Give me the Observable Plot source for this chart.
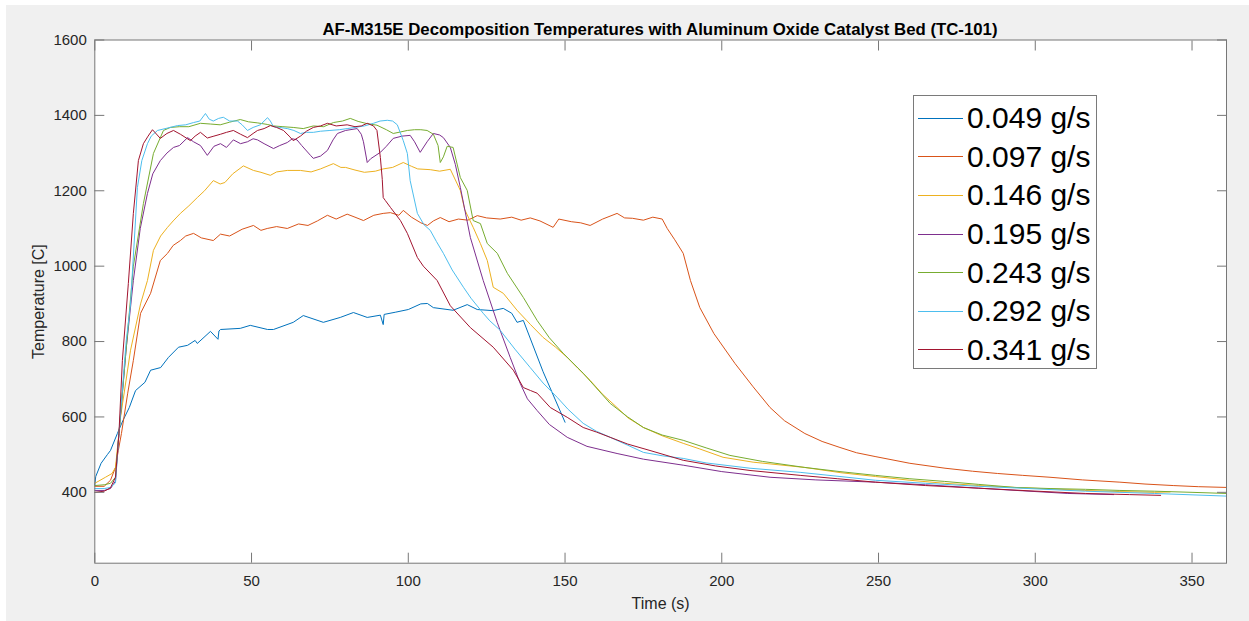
<!DOCTYPE html>
<html><head><meta charset="utf-8">
<script src="https://cdn.jsdelivr.net/npm/d3@7"></script>
<script src="https://cdn.jsdelivr.net/npm/@observablehq/plot@0.6"></script>
<style>
html,body{margin:0;padding:0;background:#fff;width:1249px;height:621px;overflow:hidden;font-family:"Liberation Sans",Arial,sans-serif}
#bg{position:absolute;left:6px;top:5px;width:1243px;height:616px;background:#f0f0f0}
#title{position:absolute;left:94px;width:1132px;top:20px;text-align:center;font-weight:bold;font-size:16.8px;line-height:19px;color:#000;white-space:nowrap}
#chart{position:absolute;left:0;top:38px}
#legend{position:absolute;left:913px;top:95px;width:184px;height:274px;border:1px solid #7a7a7a;background:#fff;box-sizing:border-box;padding-top:3px}
.row{height:38.6px;display:flex;align-items:center}
.sw{display:inline-block;width:45px;height:0;border-top:1.2px solid;margin-left:4px}
.lb{margin-left:4px;font-size:30px;color:#000;line-height:30px}
</style></head>
<body>
<div id="bg"></div>
<div id="title">AF-M315E Decomposition Temperatures with Aluminum Oxide Catalyst Bed (TC-101)</div>
<div id="chart"></div>
<div id="legend"></div>
<script>
const seriesNames = ["0.049 g/s","0.097 g/s","0.146 g/s","0.195 g/s","0.243 g/s","0.292 g/s","0.341 g/s"];
const colors = ["#0072BD","#D95319","#EDB120","#7E2F8E","#77AC30","#4DBEEE","#A2142F"];
const xTicks = [0,50,100,150,200,250,300,350];
const yTicks = [400,600,800,1000,1200,1400,1600];

const t049 = [0,0.3,2,4,5,7.2,9,11,13,16,17.8,21,23.5,26.7,29.6,32,32.7,36.9,39.3,39.6,40.1,46.4,49.6,55.1,57,63.3,66.5,72.9,78.3,82.5,86.9,91.1,92,92.3,96,100,104,106.1,108,114.3,118.8,122,127,130.3,133,134.7,136.7,143,150];
const T049 = [420,442,477,500,511,556,591,625,670,692,724,731,758,785,790,803,795,827,806,828,832,835,843,832,832,851,869,851,864,877,864,870,845,872,878,885,900,901,890,883,898,885,882,888,875,851,856,720,586];

const t097 = [0,3,5,6.6,7.5,8.5,10.5,12.3,14.6,17.8,20.9,23.2,25,27.3,29,31.5,34,37.8,40.1,43,47,50.6,53,55,58,61.4,65,68,71,74.2,77,80.5,83,85.7,89,92,94.3,97,98.4,101,104,106.1,108,110.2,113,116,119,122,125,129.3,133,136,138.9,142,146.2,148,152,155,158,162,166.6,169,171.5,175,178,181,182.6,185,187.7,190,193,197.5,204.2,210,215.4,220,226.5,232,237.7,243,248.9,260,271.2,280,288,296,304.7,315,327,335,344,352,361];
const T097 = [416,416,432,466,511,556,663,750,875,928,1015,1034,1055,1068,1080,1087,1075,1068,1085,1080,1098,1108,1095,1100,1105,1100,1112,1108,1120,1135,1125,1138,1130,1121,1135,1140,1142,1135,1148,1130,1115,1108,1120,1129,1118,1125,1122,1134,1128,1125,1130,1122,1128,1120,1103,1125,1118,1115,1108,1125,1140,1128,1127,1122,1130,1125,1100,1070,1034,962,890,821,742,680,625,590,556,535,519,505,495,477,464,456,450,445,440,433,427,422,418,415,413];

const t146 = [0,3.4,5.5,6.6,8.2,11.4,14.6,16.8,18.7,21,23.2,25,27.3,30,32.7,35,37.8,40,41.5,44,47.4,50.6,53,56,58,61.4,65.6,69,72,76.1,78.5,80,83,86,89.5,92,95,98.4,101,103,107,110,113.4,116.6,118,120.7,123,125.2,127.1,130.3,134.7,139,143,147,150.7,154,158,162,166.6,170,175,181,187.7,193,200.4,210,226.5,238,249,260,271,282,293.5,305,315.8,327,338,343];
const T146 = [424,440,450,466,599,777,900,962,1042,1080,1103,1120,1140,1160,1182,1200,1227,1218,1222,1245,1266,1254,1249,1241,1250,1254,1254,1250,1258,1272,1262,1262,1255,1249,1252,1258,1262,1275,1265,1258,1256,1252,1257,1201,1150,1103,1060,1015,944,928,883,845,811,785,758,730,697,660,625,598,572,550,530,515,493,480,466,452,442,432,424,418,413,409,405,402,400,401];

const t195 = [0,3,5,6.6,7.7,10,12.3,14.5,16.8,18.5,20.9,23,25.1,27,29.6,31.5,33.7,35.9,38,40.1,42,44.2,46.5,48.7,50.5,51.9,54,57,59,61.4,63,64.5,66,68.8,69.7,72,74.2,76,77.4,80,83.7,85,85.7,86.9,88,91.1,93,95.2,98,100.6,102,103.8,106,108,110,111.2,113.4,115,116.6,119.8,123.9,128.4,132.5,135.7,138,141.1,145,150.7,157,166.6,175,187.7,200,215.4,230,249,265,282,296,310.4,325];
const T195 = [405,405,410,430,556,780,962,1100,1193,1245,1280,1300,1315,1320,1341,1330,1320,1294,1318,1325,1315,1335,1325,1330,1338,1335,1325,1312,1320,1328,1338,1335,1320,1294,1286,1292,1307,1335,1352,1360,1365,1350,1330,1275,1285,1302,1318,1339,1345,1347,1330,1302,1330,1352,1348,1341,1315,1270,1209,1076,962,850,758,689,648,617,580,546,522,503,488,472,455,440,433,427,420,411,404,397,394];

const t243 = [0,3,5,6.6,7.7,10,12.3,15.5,18.7,21.9,24.1,27,30,33.7,37,40,43,46.4,49,52,55,57,60,63.3,66.5,69.7,73,76.1,79,81.5,84,86.9,90,93,95.2,97.5,99.7,102,104,106,108,109.5,110.2,111.2,112.4,114.3,116.6,118.8,120.7,123,125.2,128.4,131.6,136.7,141.1,145,149.4,155.8,164.4,170,175,181,187.7,195,202.6,213,226.5,237.7,249,260,271,282,293.5,305,316,327,338,350,361];
const T243 = [418,420,424,440,556,780,1000,1166,1299,1360,1368,1370,1370,1379,1377,1375,1382,1389,1383,1380,1376,1372,1370,1368,1365,1372,1370,1381,1385,1392,1384,1378,1374,1362,1352,1356,1360,1362,1362,1360,1350,1320,1275,1290,1318,1315,1235,1201,1121,1113,1060,1034,981,917,856,810,769,716,636,600,572,552,538,518,498,482,466,455,445,436,429,421,413,410,408,405,403,400,397];

const t292 = [0,3,5,6.6,7.7,10,11.4,13.6,15,16.8,18,20,23,26.4,29,31.5,33.5,35.3,36.5,37.8,39.5,41,43,45.5,47,48.7,50.5,52.8,55.1,56,57,59,61.4,63.5,65.6,67.5,69.7,72,75,78,80.5,83,86,88.9,91,93.3,95,96.5,98.4,99.7,100.6,102.9,105,107,109,111.2,114,117.6,120,123.9,126,129.3,134,138.9,143,147.5,151,155.8,160,164.4,170,175,181,187.7,195,209,225,237.7,249,265,282,298,316,338,361];
const T292 = [410,410,413,425,556,800,900,1209,1280,1325,1345,1360,1366,1373,1375,1381,1385,1405,1390,1385,1392,1395,1385,1385,1375,1360,1368,1375,1394,1385,1370,1368,1365,1360,1352,1355,1355,1358,1360,1362,1365,1368,1372,1379,1385,1387,1385,1375,1333,1299,1227,1140,1110,1095,1065,1034,990,944,915,875,855,830,780,731,690,652,620,583,562,546,525,506,497,490,478,464,453,442,432,424,416,410,403,397,390];

const t341 = [0,3,5,6.6,7.7,8.8,10.7,12.3,13.9,15.5,17,18.4,20.9,23,25.1,27.3,30.5,32,33.7,35.9,38,40.1,42,44.2,46.5,48.7,50.5,51.9,54,56,58,60.2,62,63.3,65.6,67.5,69.7,72,74.2,77,80.5,83,85,86.9,88.9,90,91.1,91.7,92,92.7,94.3,97.5,99.7,102.9,104.8,109.2,113.4,119.8,127.1,133.5,136.7,139,141.1,145.3,150.7,155.8,160,164.4,170,177.1,187.7,198,209,225,237,249,265,282,298,316,330,340];
const T341 = [400,403,412,440,556,750,954,1140,1280,1325,1345,1362,1339,1352,1360,1350,1333,1345,1355,1340,1345,1350,1355,1360,1350,1341,1352,1360,1365,1373,1368,1360,1345,1333,1345,1358,1368,1372,1379,1372,1375,1370,1372,1379,1372,1360,1288,1230,1182,1174,1156,1121,1087,1023,1000,962,895,837,785,724,678,670,663,625,599,572,560,546,528,511,485,470,458,445,436,427,418,411,404,397,394,392];

const times = [t049,t097,t146,t195,t243,t292,t341];
const temps = [T049,T097,T146,T195,T243,T292,T341];
const rows = [];
seriesNames.forEach((s, i) => times[i].forEach((t, j) => rows.push({series: s, t, T: temps[i][j]})));

const blank = () => "";
const chart = Plot.plot({
  width: 1249, height: 583,
  marginLeft: 94.3, marginRight: 23, marginTop: 1.5, marginBottom: 58.3,
  x: {domain: [0, 361]},
  y: {domain: [212, 1600]},
  color: {domain: seriesNames, range: colors},
  style: {fontFamily: "'Liberation Sans', Arial, sans-serif", fontSize: "15px", color: "#262626", background: "transparent", overflow: "visible"},
  marks: [
    Plot.frame({fill: "white", stroke: null}),
    Plot.line(rows, {x: "t", y: "T", z: "series", stroke: "series", strokeWidth: 1}),
    Plot.axisX(xTicks, {anchor: "bottom", tickSize: 0, tickPadding: 12, tickFormat: "d", label: null}),
    Plot.axisX([], {anchor: "bottom", tickSize: 0, label: "Time (s)", labelAnchor: "center", labelArrow: "none", labelOffset: 46, fontSize: 16}),
    Plot.axisX(xTicks, {anchor: "bottom", tickSize: -10, tickFormat: blank, label: null, stroke: "#777"}),
    Plot.axisX(xTicks, {anchor: "top", tickSize: -10, tickFormat: blank, label: null, stroke: "#777"}),
    Plot.axisY(yTicks, {anchor: "left", tickSize: 0, tickPadding: 8, tickFormat: "d", label: null}),
    Plot.axisY([], {anchor: "left", tickSize: 0, label: "Temperature [C]", labelAnchor: "center", labelArrow: "none", labelOffset: 62, fontSize: 16}),
    Plot.axisY(yTicks, {anchor: "left", tickSize: -10, tickFormat: blank, label: null, stroke: "#777"}),
    Plot.axisY(yTicks, {anchor: "right", tickSize: -10, tickFormat: blank, label: null, stroke: "#777"}),
    Plot.frame({stroke: "#777"})
  ]
});
document.getElementById("chart").appendChild(chart);

const legend = document.getElementById("legend");
seriesNames.forEach((s, i) => {
  const row = document.createElement("div");
  row.className = "row";
  const sw = document.createElement("span");
  sw.className = "sw";
  sw.style.borderTopColor = colors[i];
  const lb = document.createElement("span");
  lb.className = "lb";
  lb.textContent = s;
  row.appendChild(sw); row.appendChild(lb);
  legend.appendChild(row);
});
</script>
</body></html>
